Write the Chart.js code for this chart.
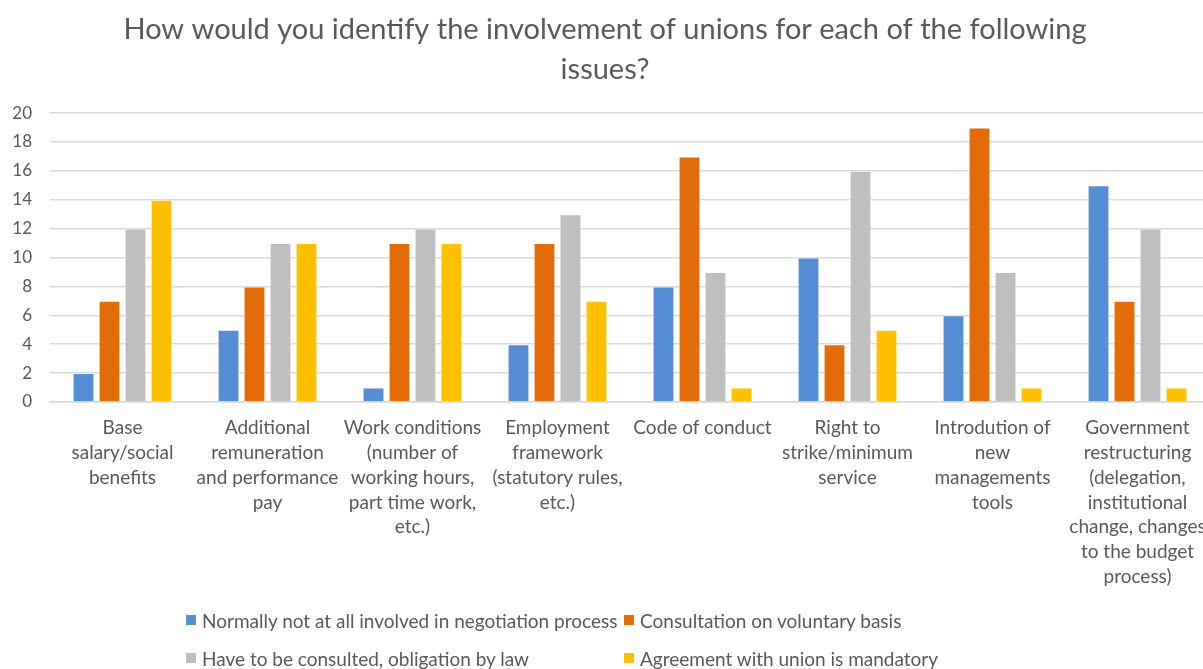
<!DOCTYPE html>
<html>
<head>
<meta charset="utf-8">
<title>Union involvement</title>
<script src="https://cdn.jsdelivr.net/npm/chart.js@4/dist/chart.umd.min.js"></script>
<style>
  html, body { margin: 0; padding: 0; background: #fff; overflow: hidden; }
  #wrap { position: relative; width: 1203px; height: 669px; overflow: hidden; }
  #legend {
    position: absolute; left: 186px; top: 608px;
    display: grid; grid-template-columns: 438px auto; row-gap: 14px;
    font-family: Lato, "Open Sans", sans-serif; font-size: 19px; color: #595959;
  }
  #legend .item { display: flex; align-items: center; height: 24px; white-space: nowrap; }
  #legend .box { width: 10px; height: 10px; margin-right: 6px; }
</style>
</head>
<body>
<div id="wrap">
  <!-- plot runs slightly past the right edge, canvas is wider than the frame -->
  <canvas id="unions_canvas" width="1230" height="669"></canvas>
  <div id="legend"></div>
</div>
<script>
var issues = [
  ["Base", "salary/social", "benefits"],
  ["Additional", "remuneration", "and performance", "pay"],
  ["Work conditions", "(number of", "working hours,", "part time work,", "etc.)"],
  ["Employment", "framework", "(statutory rules,", "etc.)"],
  ["Code of conduct"],
  ["Right to", "strike/minimum", "service"],
  ["Introdution of", "new", "managements", "tools"],
  ["Government", "restructuring", "(delegation,", "institutional", "change, changes", "to the budget", "process)"]
];
var seriesNames = [
  "Normally not at all involved in negotiation process",
  "Consultation on voluntary basis",
  "Have to be consulted, obligation by law",
  "Agreement with union is mandatory"
];
var notInvolved  = [2, 5, 1, 4, 8, 10, 6, 15];
var voluntary    = [7, 8, 11, 11, 17, 4, 19, 7];
var byLaw        = [12, 11, 12, 13, 9, 16, 9, 12];
var mandatory    = [14, 11, 11, 7, 1, 5, 1, 1];
var yTicks = [0, 2, 4, 6, 8, 10, 12, 14, 16, 18, 20];

var colors = ['#558ED5', '#E36C09', '#BFBFBF', '#FFC000'];
var values = [notInvolved, voluntary, byLaw, mandatory];

var datasets = [];
for (var i = 0; i < values.length; i++) {
  datasets.push({
    label: seriesNames[i],
    data: values[i],
    backgroundColor: colors[i],
    borderColor: 'rgba(255,255,255,0.6)',
    borderWidth: 1,
    categoryPercentage: 0.717,
    barPercentage: 0.84
  });
}

var grey = '#595959';
var fontFam = 'Lato, "Open Sans", sans-serif';

// legend in two fixed columns under the chart
var htmlLegend = {
  id: 'htmlLegend',
  afterUpdate: function(chart) {
    var box = document.getElementById('legend');
    box.innerHTML = '';
    chart.data.datasets.forEach(function(ds) {
      var item = document.createElement('div');
      item.className = 'item';
      var sw = document.createElement('span');
      sw.className = 'box';
      sw.style.background = ds.backgroundColor;
      var txt = document.createElement('span');
      txt.textContent = ds.label;
      item.appendChild(sw);
      item.appendChild(txt);
      box.appendChild(item);
    });
  }
};

var ctx = document.getElementById('unions_canvas');
var chart = new Chart(ctx, {
  type: 'bar',
  data: { labels: issues, datasets: datasets },
  plugins: [htmlLegend],
  options: {
    responsive: false,
    animation: false,
    layout: { padding: { left: 0, right: 20, top: 0, bottom: 80 } },
    plugins: {
      legend: { display: false },
      tooltip: { enabled: false },
      title: {
        display: true,
        text: ['How would you identify the involvement of unions for each of the following', 'issues?'],
        color: grey,
        font: { family: fontFam, size: 29, weight: 'normal', lineHeight: 1.38 },
        padding: { top: 10, bottom: 23 }
      }
    },
    scales: {
      x: {
        grid: { display: false, drawTicks: false },
        border: { display: true, color: '#D9D9D9', width: 1.5 },
        ticks: {
          color: grey, autoSkip: false, maxRotation: 0, minRotation: 0, padding: 14,
          font: { family: fontFam, size: 19, lineHeight: 1.3 }
        },
        afterFit: function(s) { s.height = 187; }
      },
      y: {
        min: 0, max: 20,
        afterBuildTicks: function(s) {
          s.ticks = yTicks.map(function(v) { return { value: v }; });
        },
        grid: { color: '#D9D9D9', lineWidth: 1.5, drawTicks: false },
        border: { display: false },
        ticks: {
          color: grey, padding: 18,
          font: { family: fontFam, size: 17 }
        },
        afterFit: function(s) { s.width = 50; }
      }
    }
  }
});
</script>
</body>
</html>
